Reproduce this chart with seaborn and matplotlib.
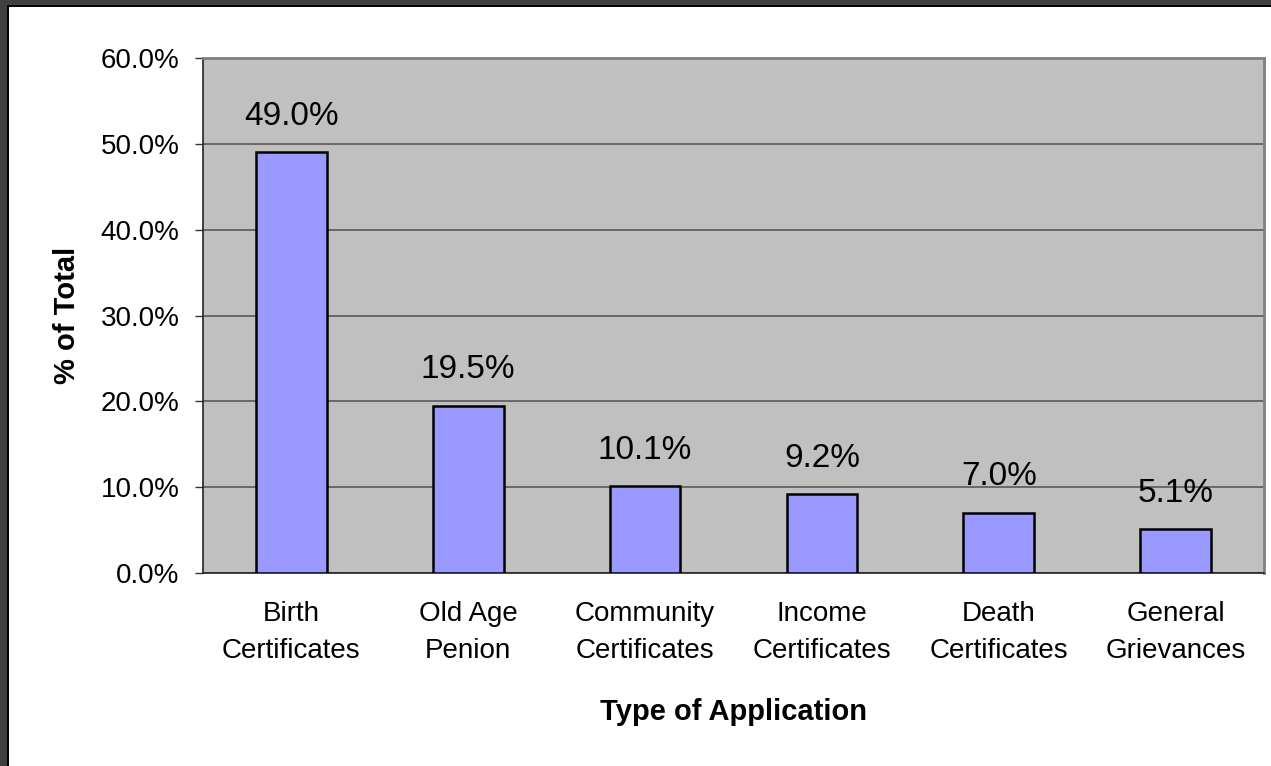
import matplotlib
matplotlib.use("Agg")
import matplotlib.pyplot as plt
import seaborn as sns
import pandas as pd
from matplotlib.patches import Rectangle
from matplotlib.ticker import FuncFormatter, FixedLocator

categories = ["Birth\nCertificates", "Old Age\nPenion", "Community\nCertificates",
              "Income\nCertificates", "Death\nCertificates", "General\nGrievances"]
shares = [49.0, 19.5, 10.1, 9.2, 7.0, 5.1]
y_ticks = [0, 10, 20, 30, 40, 50, 60]

df = pd.DataFrame({"category": categories, "share": shares})

sns.set_style("white")
plt.rcParams["font.family"] = ["Liberation Sans", "DejaVu Sans"]
plt.rcParams["text.color"] = "black"
plt.rcParams["axes.labelcolor"] = "black"
plt.rcParams["xtick.color"] = "black"
plt.rcParams["ytick.color"] = "black"

fig = plt.figure(figsize=(12.71, 7.66), dpi=100)
# dark frame on the left and top edges
fig.patches.append(Rectangle((0, 0), 1, 1, transform=fig.transFigure,
                             facecolor="#404040", edgecolor="none", zorder=-3))
fig.patches.append(Rectangle((7 / 1271, -0.01), 1.01, 1.01 - 5 / 766, transform=fig.transFigure,
                             facecolor="black", edgecolor="none", zorder=-2))
fig.patches.append(Rectangle((9 / 1271, -0.01), 1.01, 1.01 - 7 / 766, transform=fig.transFigure,
                             facecolor="white", edgecolor="none", zorder=-1))

ax = fig.add_axes([203 / 1271, 1 - 573 / 766, 1061 / 1271, 515 / 766])
ax.set_facecolor("#c0c0c0")

sns.barplot(data=df, x="category", y="share", color="#9999ff", saturation=1,
            width=0.4, edgecolor="black", linewidth=1.8, ax=ax, zorder=3)

ax.set_ylim(0, 60)
ax.set_xlim(-0.5, 5.5)
ax.set_yticks(y_ticks)
ax.yaxis.set_major_formatter(FuncFormatter(lambda v, p: f"{v:.1f}%"))
ax.yaxis.grid(True, color="#505050", linewidth=1.1, zorder=0)
ax.set_axisbelow(True)

ax.xaxis.set_major_locator(FixedLocator(range(len(categories))))
ax.set_xticks([i + 0.5 for i in range(-1, len(categories))], minor=True)
ax.tick_params(axis="x", which="major", length=0, pad=20, labelsize=20)
ax.tick_params(axis="x", which="minor", length=6, width=1, color="#333333", direction="out")
ax.tick_params(axis="y", length=6, width=1, color="#333333", direction="out",
               left=True, labelsize=20, pad=11)
for lab in ax.get_xticklabels():
    lab.set_linespacing(1.55)

for s in ["top", "right"]:
    ax.spines[s].set_color("#808080")
    ax.spines[s].set_linewidth(2)
for s in ["left", "bottom"]:
    ax.spines[s].set_color("#222222")
    ax.spines[s].set_linewidth(1.2)

for i, v in enumerate(shares):
    ax.text(i, v + 3.2, f"{v:.1f}%", ha="center", va="baseline", fontsize=24, zorder=5)

ax.set_xlabel("Type of Application", fontsize=21, fontweight="bold", labelpad=25)
ax.set_ylabel("% of Total", fontsize=21, fontweight="bold", labelpad=14)

fig.savefig("out.png", dpi=100)
